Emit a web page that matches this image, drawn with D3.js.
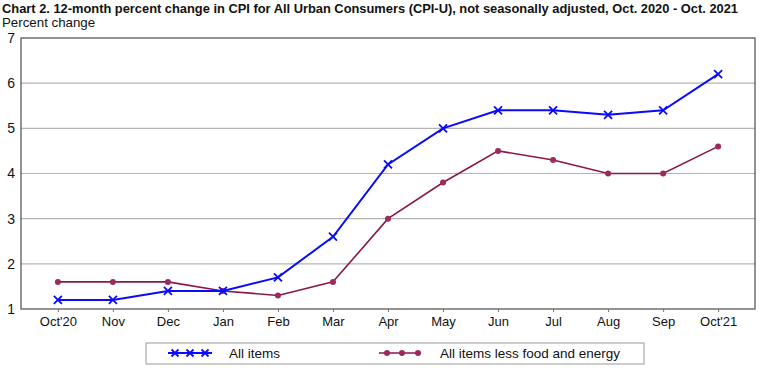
<!DOCTYPE html>
<html><head><meta charset="utf-8">
<script src="https://cdn.jsdelivr.net/npm/d3@7"></script>
<style>body{margin:0;background:#fff}svg{display:block}</style>
</head><body>
<svg id="c" width="760" height="368"></svg>
<script>
const months = ["Oct'20","Nov","Dec","Jan","Feb","Mar","Apr","May","Jun","Jul","Aug","Sep","Oct'21"];
const allItems = [1.2,1.2,1.4,1.4,1.7,2.6,4.2,5.0,5.4,5.4,5.3,5.4,6.2];
const coreItems = [1.6,1.6,1.6,1.4,1.3,1.6,3.0,3.8,4.5,4.3,4.0,4.0,4.6];
const yTicks = [1,2,3,4,5,6,7];
const titleText = "Chart 2. 12-month percent change in CPI for All Urban Consumers (CPI-U), not seasonally adjusted, Oct. 2020 - Oct. 2021";
const yLabel = "Percent change";
const legendLabels = ["All items","All items less food and energy"];

const svg = d3.select("#c");
const L=21, R=755, T=38, B=309;
const font = "'Liberation Sans', Arial, sans-serif";
const blue = "#0a0aff", maroon = "#8a1846", dot = "#9a2b5c";

const x = d3.scalePoint().domain(months).range([L,R]).padding(0.67);
const y = d3.scaleLinear().domain([1,7]).range([B,T]);

// title
svg.append("text").attr("x",2).attr("y",13).attr("font-family",font).attr("font-weight","bold")
  .attr("font-size",13).attr("fill","#111").attr("textLength",736).attr("lengthAdjust","spacingAndGlyphs").text(titleText);
svg.append("text").attr("x",2).attr("y",27).attr("font-family",font).attr("font-size",13.3).attr("fill","#111").text(yLabel);

// grid
svg.append("g").selectAll("line").data(yTicks.filter(d=>d>1&&d<7)).join("line")
  .attr("x1",L).attr("x2",R).attr("y1",d=>y(d)).attr("y2",d=>y(d))
  .attr("stroke","#b4b4b4").attr("stroke-width",1.2);

// frame
svg.append("rect").attr("x",L).attr("y",T).attr("width",R-L).attr("height",B-T)
  .attr("fill","none").attr("stroke","#5a5a5a").attr("stroke-width",1.3);

// y axis
const ya = svg.append("g").attr("transform",`translate(${L},0)`)
  .call(d3.axisLeft(y).tickValues(yTicks).tickSize(0).tickPadding(6).tickFormat(d3.format("d")));
ya.select(".domain").remove();
ya.selectAll("text").attr("font-family",font).attr("font-size",14).attr("fill","#111");

// x axis
const xa = svg.append("g").attr("transform",`translate(0,${B})`)
  .call(d3.axisBottom(x).tickSize(3).tickPadding(5));
xa.select(".domain").remove();
xa.selectAll("line").attr("stroke","#777");
xa.selectAll("text").attr("font-family",font).attr("font-size",13).attr("fill","#111");

const line = d3.line().x((d,i)=>x(months[i])).y(d=>y(d));

// core series
svg.append("path").datum(coreItems).attr("d",line).attr("fill","none").attr("stroke",maroon).attr("stroke-width",1.6);
svg.append("g").selectAll("circle").data(coreItems).join("circle")
  .attr("cx",(d,i)=>x(months[i])).attr("cy",d=>y(d)).attr("r",3).attr("fill",dot);

// all items
svg.append("path").datum(allItems).attr("d",line).attr("fill","none").attr("stroke",blue).attr("stroke-width",2);
const cross = (g,cx,cy,s)=>{
  g.append("path").attr("d",`M${cx-s},${cy-s}L${cx+s},${cy+s}M${cx-s},${cy+s}L${cx+s},${cy-s}`)
   .attr("stroke",blue).attr("stroke-width",1.8).attr("fill","none");
};
const cg = svg.append("g");
allItems.forEach((d,i)=>cross(cg,x(months[i]),y(d),4));

// legend
svg.append("rect").attr("x",146).attr("y",343).attr("width",498).attr("height",21)
  .attr("fill","#fff").attr("stroke","#9a9a9a").attr("stroke-width",1);
const lg = svg.append("g");
lg.append("line").attr("x1",168).attr("x2",212).attr("y1",353).attr("y2",353).attr("stroke",blue).attr("stroke-width",2);
[175,190,205].forEach(cx=>cross(lg,cx,353,3.5));
lg.append("text").attr("x",229).attr("y",358).attr("font-family",font).attr("font-size",13.5).attr("fill","#111").text(legendLabels[0]);
lg.append("line").attr("x1",379).attr("x2",421).attr("y1",353).attr("y2",353).attr("stroke",maroon).attr("stroke-width",1.6);
[387,402,418].forEach(cx=>lg.append("circle").attr("cx",cx).attr("cy",353).attr("r",3).attr("fill",dot));
lg.append("text").attr("x",440).attr("y",358).attr("font-family",font).attr("font-size",13.5).attr("fill","#111").text(legendLabels[1]);
</script>
</body></html>
